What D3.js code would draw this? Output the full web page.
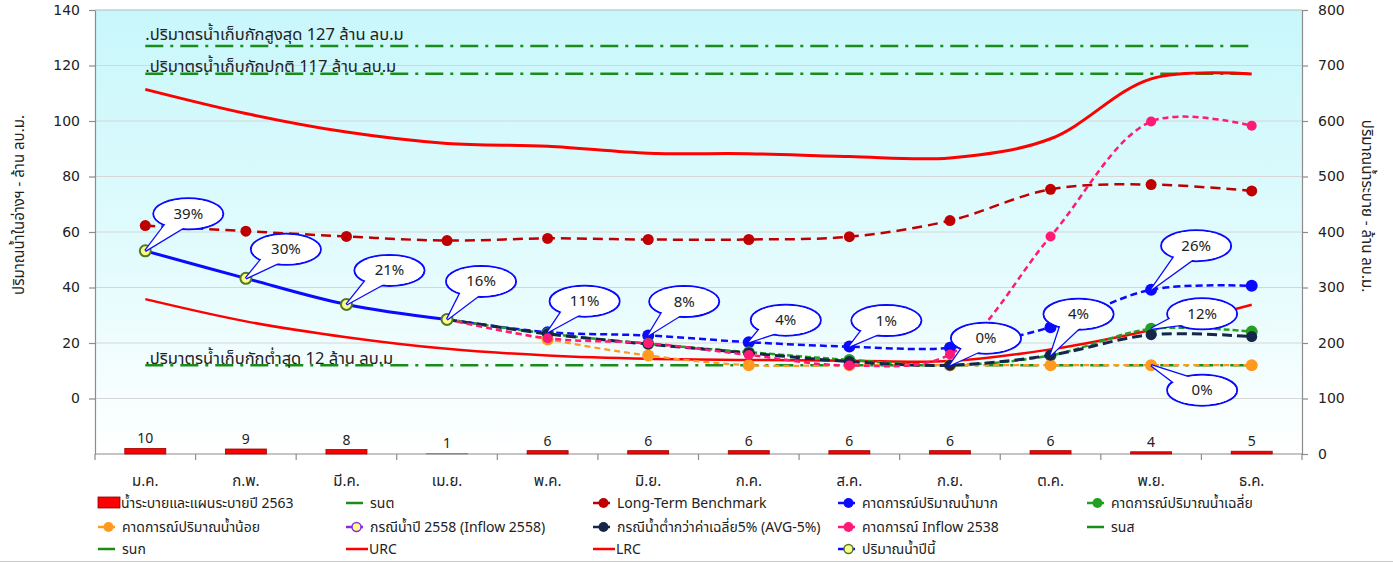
<!DOCTYPE html>
<html><head><meta charset="utf-8">
<script src="https://cdn.jsdelivr.net/npm/d3@7"></script>
<style>
html,body{margin:0;padding:0;background:#fff;}
svg text{font-family:Tahoma,"Noto Sans Thai","Loma","Garuda","Noto Sans","DejaVu Sans",sans-serif;fill:#222;}
</style></head>
<body><svg id="c" width="1393" height="562"></svg>
<script>
const months = ['ม.ค.','ก.พ.','มี.ค.','เม.ย.','พ.ค.','มิ.ย.','ก.ค.','ส.ค.','ก.ย.','ต.ค.','พ.ย.','ธ.ค.'];
const release = [10,9,8,1,6,6,6,6,6,6,4,5];
const current = [53.2,43.3,33.9,28.5,null,null,null,null,null,null,null,null];
const benchmark = [62.3,60.3,58.4,56.9,57.7,57.3,57.3,58.3,64.1,75.4,77.1,74.8];
const fcHigh = [null,null,null,28.5,23.9,22.7,20.3,18.7,18.3,25.7,39.2,40.6];
const fcAvg = [null,null,null,28.5,23.4,19.7,16.7,13.9,12.0,15.5,25.1,24.1];
const fcLow = [null,null,null,28.5,21.3,15.5,12,12,12,12,12,12];
const fcAvg5 = [null,null,null,28.5,23.3,19.6,16.4,13.3,12.0,15.6,23.0,22.3];
const fc2538 = [null,null,null,28.5,21.7,19.9,15.7,11.9,15.9,58.4,99.8,98.3];
const urc = [111.4,102.7,96.0,91.9,90.9,88.4,88.2,87.2,86.7,93.6,115.2,116.9];
const lrc = [35.8,27.8,22.1,17.9,15.5,14.3,13.9,13.6,13.5,17.7,24.7,33.8];
const refValues = [127,117,12];
const refLabels = ['.ปริมาตรน้ำเก็บกักสูงสุด 127 ล้าน ลบ.ม','.ปริมาตรน้ำเก็บกักปกติ 117 ล้าน ลบ.ม','.ปริมาตรน้ำเก็บกักต่ำสุด 12 ล้าน ลบ.ม'];
const leftTicks = [0,20,40,60,80,100,120,140];
const rightTicks = [0,100,200,300,400,500,600,700,800];
// callouts: label, series, month index
const calloutText = ['39%','30%','21%','16%','11%','8%','4%','1%','0%','4%','26%','12%','0%'];
const calloutSeries = ['current','current','current','current','fcHigh','fcHigh','fcHigh','fcHigh','fcAvg5','fcAvg5','fcHigh','fcAvg','fcLow'];
const calloutMonth = [0,1,2,3,4,5,6,7,8,9,10,10,10];
const calloutOffset = [[43,-37],[40,-29],[43,-34],[34,-38],[37,-31],[36,-34],[37,-22],[37,-26],[36,-27],[28,-41],[45,-44],[51,-15],[51,25]];
const legendLabels = ['น้ำระบายและแผนระบายปี 2563','รนต','Long-Term Benchmark','คาดการณ์ปริมาณน้ำมาก','คาดการณ์ปริมาณน้ำเฉลี่ย',
 'คาดการณ์ปริมาณน้ำน้อย','กรณีน้ำปี 2558 (Inflow 2558)','กรณีน้ำต่ำกว่าค่าเฉลี่ย5% (AVG-5%)','คาดการณ์ Inflow 2538','รนส',
 'รนก','URC','LRC','ปริมาณน้ำปีนี้'];

const svg = d3.select('#c');
const L=95,R=1302,T=10,B=454;
const x = d3.scaleBand().domain(months).range([L,R]);
const cx = i => x(months[i]) + x.bandwidth()/2;
const yL = d3.scaleLinear().domain([-20,140]).range([B,T]);
const yR = d3.scaleLinear().domain([0,800]).range([B,T]);

const defs = svg.append('defs');
const gr = defs.append('linearGradient').attr('id','bg').attr('x1',0).attr('y1',0).attr('x2',0).attr('y2',1);
gr.append('stop').attr('offset','0%').attr('stop-color','#c8f7fb');
gr.append('stop').attr('offset','55%').attr('stop-color','#e2fbfd');
gr.append('stop').attr('offset','100%').attr('stop-color','#ffffff');
svg.append('rect').attr('x',L).attr('y',T).attr('width',R-L).attr('height',B-T).attr('fill','url(#bg)');

// gridlines
svg.append('g').selectAll('line').data(leftTicks).join('line')
 .attr('x1',L).attr('x2',R).attr('y1',d=>yL(d)).attr('y2',d=>yL(d))
 .attr('stroke',d=>d===140?'#b8b8b8':'#d6d6d6').attr('stroke-width',1);

// axes
const gl = svg.append('g').attr('transform',`translate(${L},0)`)
 .call(d3.axisLeft(yL).tickValues(leftTicks).tickSize(6).tickSizeOuter(0).tickPadding(9));
const gright = svg.append('g').attr('transform',`translate(${R},0)`)
 .call(d3.axisRight(yR).tickValues(rightTicks).tickSize(6).tickSizeOuter(0).tickPadding(10));
[gl,gright].forEach(g=>{g.selectAll('path,line').attr('stroke','#8c8c8c').attr('stroke-width',1.2);
 g.selectAll('text').attr('font-size',14).style('font-family','Tahoma,"DejaVu Sans",sans-serif').attr('fill','#222');});
// x axis
svg.append('line').attr('x1',L).attr('x2',R).attr('y1',B).attr('y2',B).attr('stroke','#8c8c8c').attr('stroke-width',1.2);
svg.append('g').selectAll('line').data(d3.range(13)).join('line')
 .attr('x1',i=>L+i*x.bandwidth()).attr('x2',i=>L+i*x.bandwidth()).attr('y1',B).attr('y2',B+6)
 .attr('stroke','#8c8c8c').attr('stroke-width',1.2);
svg.append('g').selectAll('text').data(months).join('text')
 .attr('x',(d,i)=>cx(i)).attr('y',486).attr('text-anchor','middle').attr('font-size',15).text(d=>d);

// axis titles
svg.append('text').attr('transform','translate(24,205) rotate(-90)').attr('text-anchor','middle').attr('font-size',15).text('ปริมาณน้ำในอ่างฯ - ล้าน ลบ.ม.');
svg.append('text').attr('transform','translate(1362,206) rotate(90)').attr('text-anchor','middle').attr('font-size',15).text('ปริมาณน้ำระบาย - ล้าน ลบ.ม.');

// bars
const bw = 41;
svg.append('g').selectAll('rect').data(release).join('rect')
 .attr('x',(d,i)=>cx(i)-bw/2).attr('y',d=>yR(d)).attr('width',bw).attr('height',d=>B-yR(d))
 .attr('fill','#ff0000').attr('stroke',d=>d<2?'#888':'#9b0000').attr('stroke-width',0.8);
svg.append('g').selectAll('text').data(release).join('text')
 .attr('x',(d,i)=>cx(i)).attr('y',d=>yR(d)-5).attr('text-anchor','middle').attr('font-size',14).text(d=>d);

// reference lines
svg.append('g').selectAll('line').data(refValues).join('line')
 .attr('x1',cx(0)).attr('x2',cx(11)).attr('y1',d=>yL(d)).attr('y2',d=>yL(d))
 .attr('stroke','#1a8c1a').attr('stroke-width',2.5).attr('stroke-dasharray','18,7,3,7');
svg.append('g').selectAll('text').data(refLabels).join('text')
 .attr('x',cx(0)).attr('y',(d,i)=>[yL(127)-6,yL(117)-2,yL(12)-1][i]).attr('font-size',16.5).text(d=>d);

const line = d3.line().defined(d=>d!=null).x((d,i)=>cx(i)).y(d=>yL(d)).curve(d3.curveCatmullRom.alpha(0.5));
function drawLine(data,color,w,dash){
 svg.append('path').datum(data).attr('d',line).attr('fill','none').attr('stroke',color).attr('stroke-width',w)
  .attr('stroke-dasharray',dash||null).attr('stroke-linecap','butt');
}
function drawDots(data,fill,r,stroke,sw,skip){
 svg.append('g').selectAll('circle').data(data.map((v,i)=>({v,i})).filter(d=>d.v!=null && !(skip&&skip.includes(d.i)))).join('circle')
  .attr('cx',d=>cx(d.i)).attr('cy',d=>yL(d.v)).attr('r',r).attr('fill',fill).attr('stroke',stroke||'none').attr('stroke-width',sw||0);
}
drawLine(urc,'#ff0000',3);
drawLine(lrc,'#ff0000',2.5);
drawLine(benchmark,'#c00000',2.5,'10,6');
drawDots(benchmark,'#c00000',5.5);
drawLine(fcHigh,'#0a0aff',2.5,'7,4');
drawDots(fcHigh,'#0a0aff',6,null,0,[3]);
drawLine(fcAvg,'#22a022',2.5,'6,3');
drawDots(fcAvg,'#22a022',6,null,0,[3]);
drawLine(fcLow,'#ff9a1e',2.2,'6,4');
drawDots(fcLow,'#ff9a1e',6,null,0,[3]);
drawLine(fcAvg5,'#15264a',3,'10,5');
drawDots(fcAvg5,'#15264a',5.5,null,0,[3]);
drawLine(fc2538,'#ff1a75',2.5,'6,4');
drawDots(fc2538,'#ff1a75',5,null,0,[3]);
drawLine(current,'#0a0aff',3);
drawDots(current,'#ffff88',5.5,'#4e7a24',2);

// callouts
const seriesMap = {current,fcHigh,fcAvg,fcLow,fcAvg5,fc2538};
const cg = svg.append('g');
calloutText.forEach((t,k)=>{
 const i = calloutMonth[k];
 const px = cx(i), py = yL(seriesMap[calloutSeries[k]][i]);
 const ex = px + calloutOffset[k][0], ey = py + calloutOffset[k][1];
 const rx=35, ry=15.5;
 const ang = Math.atan2((py-ey)/ry,(px-ex)/rx);
 const b1=[ex+rx*0.85*Math.cos(ang-0.35), ey+ry*0.85*Math.sin(ang-0.35)];
 const b2=[ex+rx*0.85*Math.cos(ang+0.35), ey+ry*0.85*Math.sin(ang+0.35)];
 const tri = `M${px},${py}L${b1[0]},${b1[1]}L${b2[0]},${b2[1]}Z`;
 const g = cg.append('g');
 g.append('ellipse').attr('cx',ex).attr('cy',ey).attr('rx',rx).attr('ry',ry).attr('fill','#fff').attr('stroke','#0a0aff').attr('stroke-width',2);
 g.append('path').attr('d',tri).attr('fill','#fff').attr('stroke','#0a0aff').attr('stroke-width',2.5).attr('stroke-linejoin','miter');
 g.append('ellipse').attr('cx',ex).attr('cy',ey).attr('rx',rx-1).attr('ry',ry-1).attr('fill','#fff');
 g.append('path').attr('d',tri).attr('fill','#fff');
 g.append('text').attr('x',ex).attr('y',ey+5).attr('text-anchor','middle').attr('font-size',15).text(t);
});

// legend
const colX = [98,346,593,838,1087], rowY=[503,527,549];
const legendKind = ['bar','line','mark','mark','mark','mark','ring','mark','mark','line','line','line','line','ring'];
const legendColor = ['#ff0000','#1a8c1a','#c00000','#0a0aff','#22a022','#ff9a1e','#8a2be2','#15264a','#ff1a75','#1a8c1a','#1a8c1a','#ff0000','#ff0000','#0a0aff'];
const lg = svg.append('g');
legendLabels.forEach((lab,k)=>{
 const c=k%5, r=Math.floor(k/5);
 const x0=colX[c], y0=rowY[r];
 const kind=legendKind[k], col=legendColor[k];
 if(kind==='bar'){
  lg.append('rect').attr('x',x0).attr('y',y0-6).attr('width',22).attr('height',11).attr('fill',col).attr('stroke','#8b0000').attr('stroke-width',0.8);
 } else {
  const len = (k===11||k===12)?22:17;
  lg.append('line').attr('x1',x0).attr('x2',x0+len).attr('y1',y0).attr('y2',y0).attr('stroke',col).attr('stroke-width',2.5);
  if(kind==='mark') lg.append('circle').attr('cx',x0+len/2+2).attr('cy',y0).attr('r',5).attr('fill',col);
  if(kind==='ring') lg.append('circle').attr('cx',x0+len/2+2).attr('cy',y0).attr('r',4.5).attr('fill','#ffff88').attr('stroke',k===6?'#8a2be2':'#4e7a24').attr('stroke-width',1.5);
 }
 const tx = (kind==='bar')?x0+23:((k===11||k===12)?x0+23:x0+24);
 lg.append('text').attr('x',tx).attr('y',y0+4.5).attr('font-size',14).text(lab);
});
svg.append('line').attr('x1',0).attr('x2',1393).attr('y1',561.5).attr('y2',561.5).attr('stroke','#c8c8c8');
</script></body></html>
